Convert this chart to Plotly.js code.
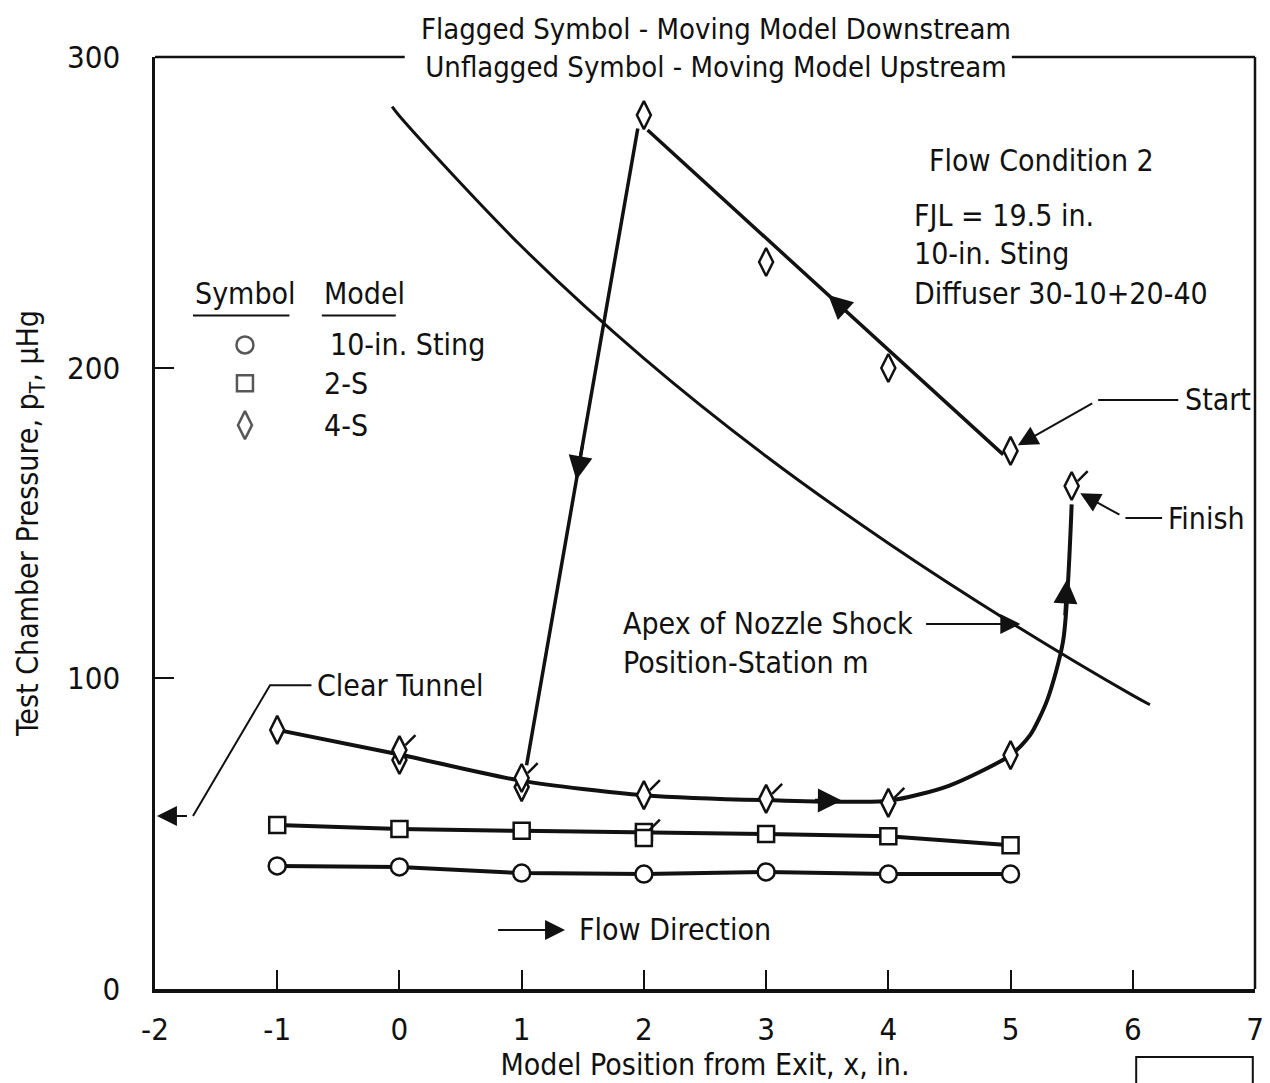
<!DOCTYPE html>
<html><head><meta charset="utf-8">
<script src="https://cdn.plot.ly/plotly-3.0.1.min.js"></script>
<style>body{margin:0;background:#fff}</style>
</head><body>
<div id="chart" style="width:1270px;height:1083px"></div>
<script>
// ---- data ----
const stingX = [-1, 0, 1, 2, 3, 4, 5];
const stingY = [39.6, 39.3, 37.3, 37.0, 37.7, 37.0, 37.0];
const s2X = [-1, 0, 1, 2, 3, 4, 5];
const s2Y = [52.8, 51.5, 50.9, 50.5, 49.9, 49.2, 46.3];
const s2ExtraX = [2];
const s2ExtraY = [48.6];
const s2FlagX = [2];
const s2FlagY = [50.5];
const s4UpX = [5, 4, 3, 2, 1, 0, -1];
const s4UpY = [173.2, 199.9, 234.0, 281.3, 65.0, 73.7, 83.4];
const s4DownX = [0, 1, 2, 3, 4, 5, 5.5];
const s4DownY = [76.9, 67.9, 62.4, 61.2, 59.9, 75.3, 161.9];
const downCurveX = [-1, 0, 1, 2, 3, 4, 4.5, 5, 5.16, 5.3, 5.43, 5.5];
const downCurveY = [83.4, 75.5, 67.0, 62.4, 60.8, 60.6, 65.5, 75.3, 81.7, 93, 112, 156];
const upFitX = [4.94, 2.03];
const upFitY = [172.0, 276.5];
const dropX = [1.95, 1.04];
const dropY = [277.0, 72.0];
const shockX = [-0.06, 0, 1, 2, 3, 4, 5, 6, 6.14];
const shockY = [284, 281, 239, 203, 171.5, 143.5, 118, 94.5, 91.5];
const clearTunnelY = 55.7;
const xTicks = [-2, -1, 0, 1, 2, 3, 4, 5, 6, 7];
const yTicks = [0, 100, 200, 300];
const legendLabels = ['10-in. Sting', '2-S', '4-S'];
const legendSymbols = ['circle', 'square', 'diamond-tall'];
const legendY = [207.3, 195.0, 181.5];

const FONT = '"Liberation Sans Narrow", "DejaVu Sans Condensed", "Liberation Sans", sans-serif';
const BLK = '#111';

function along(xs, ys, i, f) {
  return [xs[i] + (xs[i + 1] - xs[i]) * f, ys[i] + (ys[i + 1] - ys[i]) * f];
}

const mk = (sym, size) => ({symbol: sym, size: size, color: 'white', line: {color: BLK, width: 2.5}});

const traces = [
  {x: shockX, y: shockY, mode: 'lines', line: {color: BLK, width: 3, shape: 'spline'}, hoverinfo: 'skip'},
  {x: dropX, y: dropY, mode: 'lines', line: {color: BLK, width: 3.5}, hoverinfo: 'skip'},
  {x: upFitX, y: upFitY, mode: 'lines', line: {color: BLK, width: 3.5}, hoverinfo: 'skip'},
  {x: downCurveX, y: downCurveY, mode: 'lines', line: {color: BLK, width: 4, shape: 'spline', smoothing: 0.7}, hoverinfo: 'skip'},
  {x: stingX, y: stingY, mode: 'lines+markers', line: {color: BLK, width: 4}, marker: mk('circle', 17)},
  {x: s2X, y: s2Y, mode: 'lines+markers', line: {color: BLK, width: 4}, marker: mk('square', 16)},
  {x: s2ExtraX, y: s2ExtraY, mode: 'markers', marker: mk('square', 16)},
  {x: s4UpX, y: s4UpY, mode: 'markers', marker: mk('diamond-tall', 20)},
  {x: s4DownX, y: s4DownY, mode: 'markers', marker: mk('diamond-tall', 20)},
  // flags on the downstream (flagged) symbols
  {x: s4DownX.map(v => v + 0.09).concat(s2FlagX.map(v => v + 0.09)),
   y: s4DownY.map(v => v + 3.2).concat(s2FlagY.map(v => v + 2.4)),
   mode: 'markers', marker: {symbol: 'line-ne', size: 10, line: {color: BLK, width: 2.5}}, hoverinfo: 'skip'},
  // legend symbols
  {x: legendY.map(() => -1.264), y: legendY, mode: 'markers',
   marker: {symbol: legendSymbols, size: [17, 16, 20], color: 'white', line: {color: BLK, width: 2.5}}, hoverinfo: 'skip'}
];

const textAnn = (x, y, t, extra) => Object.assign({x: x, y: y, xref: 'x', yref: 'y', text: t, showarrow: false,
  xanchor: 'left', yanchor: 'middle', font: {family: FONT, size: 30, color: BLK}}, extra || {});

function arrow(hx, hy, tx, ty, opts) {
  return Object.assign({x: hx, y: hy, ax: tx, ay: ty, xref: 'x', yref: 'y', axref: 'x', ayref: 'y',
    text: ' ', showarrow: true, arrowhead: 2, arrowsize: 2, arrowwidth: 2, arrowcolor: BLK}, opts || {});
}

const dH = along(dropX, dropY, 0, 0.552), dT = along(dropX, dropY, 0, 0.47);
const uH = along(upFitX, upFitY, 0, 0.492), uT = along(upFitX, upFitY, 0, 0.43);
const fH = along(downCurveX, downCurveY, 4, 0.62), fT = along(downCurveX, downCurveY, 4, 0.35);
const nH = along(downCurveX, downCurveY, 10, 0.45), nT = along(downCurveX, downCurveY, 10, 0.05);

const annotations = [
  textAnn(-0.69, 97.8, 'Clear Tunnel'),
  textAnn(6.41, 189.6, 'Start'),
  textAnn(6.27, 151.6, 'Finish'),
  textAnn(1.813, 117.5, 'Apex of Nozzle Shock'),
  textAnn(1.813, 105.2, 'Position-Station m'),
  textAnn(1.453, 19.0, 'Flow Direction'),
  textAnn(4.317, 266.8, 'Flow Condition 2'),
  textAnn(4.195, 249.1, 'FJL = 19.5 in.'),
  textAnn(4.195, 236.6, '10-in. Sting'),
  textAnn(4.195, 224.0, 'Diffuser 30-10+20-40'),
  textAnn(-1.689, 224.0, 'Symbol'),
  textAnn(-0.633, 224.0, 'Model'),
  textAnn(-0.584, legendY[0], legendLabels[0]),
  textAnn(-0.633, legendY[1], legendLabels[1]),
  textAnn(-0.633, legendY[2], legendLabels[2]),
  // leader arrows
  arrow(-1.984, clearTunnelY, -1.689, clearTunnelY),
  arrow(5.06, 175.0, 5.717, 189.6),
  arrow(5.57, 159.6, 5.94, 151.6),
  arrow(5.08, 117.5, 4.26, 117.5),
  arrow(1.355, 19.0, 0.758, 19.0),
  // direction arrows on curves
  arrow(dH[0], dH[1], dT[0], dT[1], {arrowsize: 1.6, arrowwidth: 3}),
  arrow(uH[0], uH[1], uT[0], uT[1], {arrowsize: 1.6, arrowwidth: 3}),
  arrow(fH[0], fH[1], fT[0], fT[1], {arrowsize: 1.6, arrowwidth: 3}),
  arrow(nH[0], nH[1], nT[0], nT[1], {arrowsize: 1.6, arrowwidth: 3})
];

const lineShape = (x0, y0, x1, y1, w, ref) => ({type: 'line', x0: x0, y0: y0, x1: x1, y1: y1,
  xref: ref || 'x', yref: ref || 'y', line: {color: BLK, width: w || 2}});

const shapes = [
  // frame: top (broken by the title) and right
  lineShape(0, 1, 0.227, 1, 2.5, 'paper'),
  lineShape(0.779, 1, 1, 1, 2.5, 'paper'),
  lineShape(1, 0, 1, 1, 2.5, 'paper'),
  // clear tunnel leader
  {type: 'path', xref: 'x', yref: 'y', path: 'M -0.72,97.8 L -1.059,97.8 L -1.689,' + clearTunnelY,
   line: {color: BLK, width: 2}},
  // start / finish leaders
  lineShape(6.372, 189.6, 5.717, 189.6),
  lineShape(6.24, 151.6, 5.94, 151.6),
  // legend underlines
  lineShape(-1.689, 216.8, -0.9, 216.8),
  lineShape(-0.635, 216.8, -0.03, 216.8),
  // small box bottom right
  {type: 'path', xref: 'paper', yref: 'paper', path: 'M 0.892,-0.13 L 0.892,-0.073 L 0.998,-0.073 L 0.998,-0.13',
   line: {color: BLK, width: 2}}
];

const layout = {
  width: 1270, height: 1083,
  margin: {l: 155, r: 15, t: 57, b: 94},
  paper_bgcolor: 'white', plot_bgcolor: 'white',
  showlegend: false,
  font: {family: FONT, color: BLK, size: 30},
  title: {text: 'Flagged Symbol - Moving Model Downstream<br>Unflagged Symbol - Moving Model Upstream',
    x: 716 / 1270, xanchor: 'center', xref: 'container', y: 1 - 39 / 1083, yanchor: 'middle', yref: 'container',
    font: {family: FONT, size: 29, color: BLK}},
  xaxis: {range: [-2, 7], tickvals: xTicks, ticktext: xTicks.map(String), ticks: 'inside', ticklen: 19, tickwidth: 2,
    tickcolor: BLK, showline: true, linewidth: 3.5, linecolor: BLK, showgrid: false, zeroline: false,
    ticklabelstandoff: 10, tickfont: {family: FONT, size: 31, color: BLK},
    title: {text: 'Model Position from Exit, x, in.', font: {family: FONT, size: 30, color: BLK}, standoff: 6}},
  yaxis: {range: [0, 300], tickvals: yTicks, ticktext: yTicks.map(String), ticks: 'inside', ticklen: 19, tickwidth: 2,
    tickcolor: BLK, showline: true, linewidth: 3.5, linecolor: BLK, showgrid: false, zeroline: false,
    ticklabelstandoff: 25, tickfont: {family: FONT, size: 31, color: BLK},
    title: {text: 'Test Chamber Pressure, p<sub>T</sub>, µHg', font: {family: FONT, size: 30, color: BLK}, standoff: 20}},
  annotations: annotations,
  shapes: shapes
};

Plotly.newPlot('chart', traces, layout, {displayModeBar: false, staticPlot: true});
</script>
</body></html>
